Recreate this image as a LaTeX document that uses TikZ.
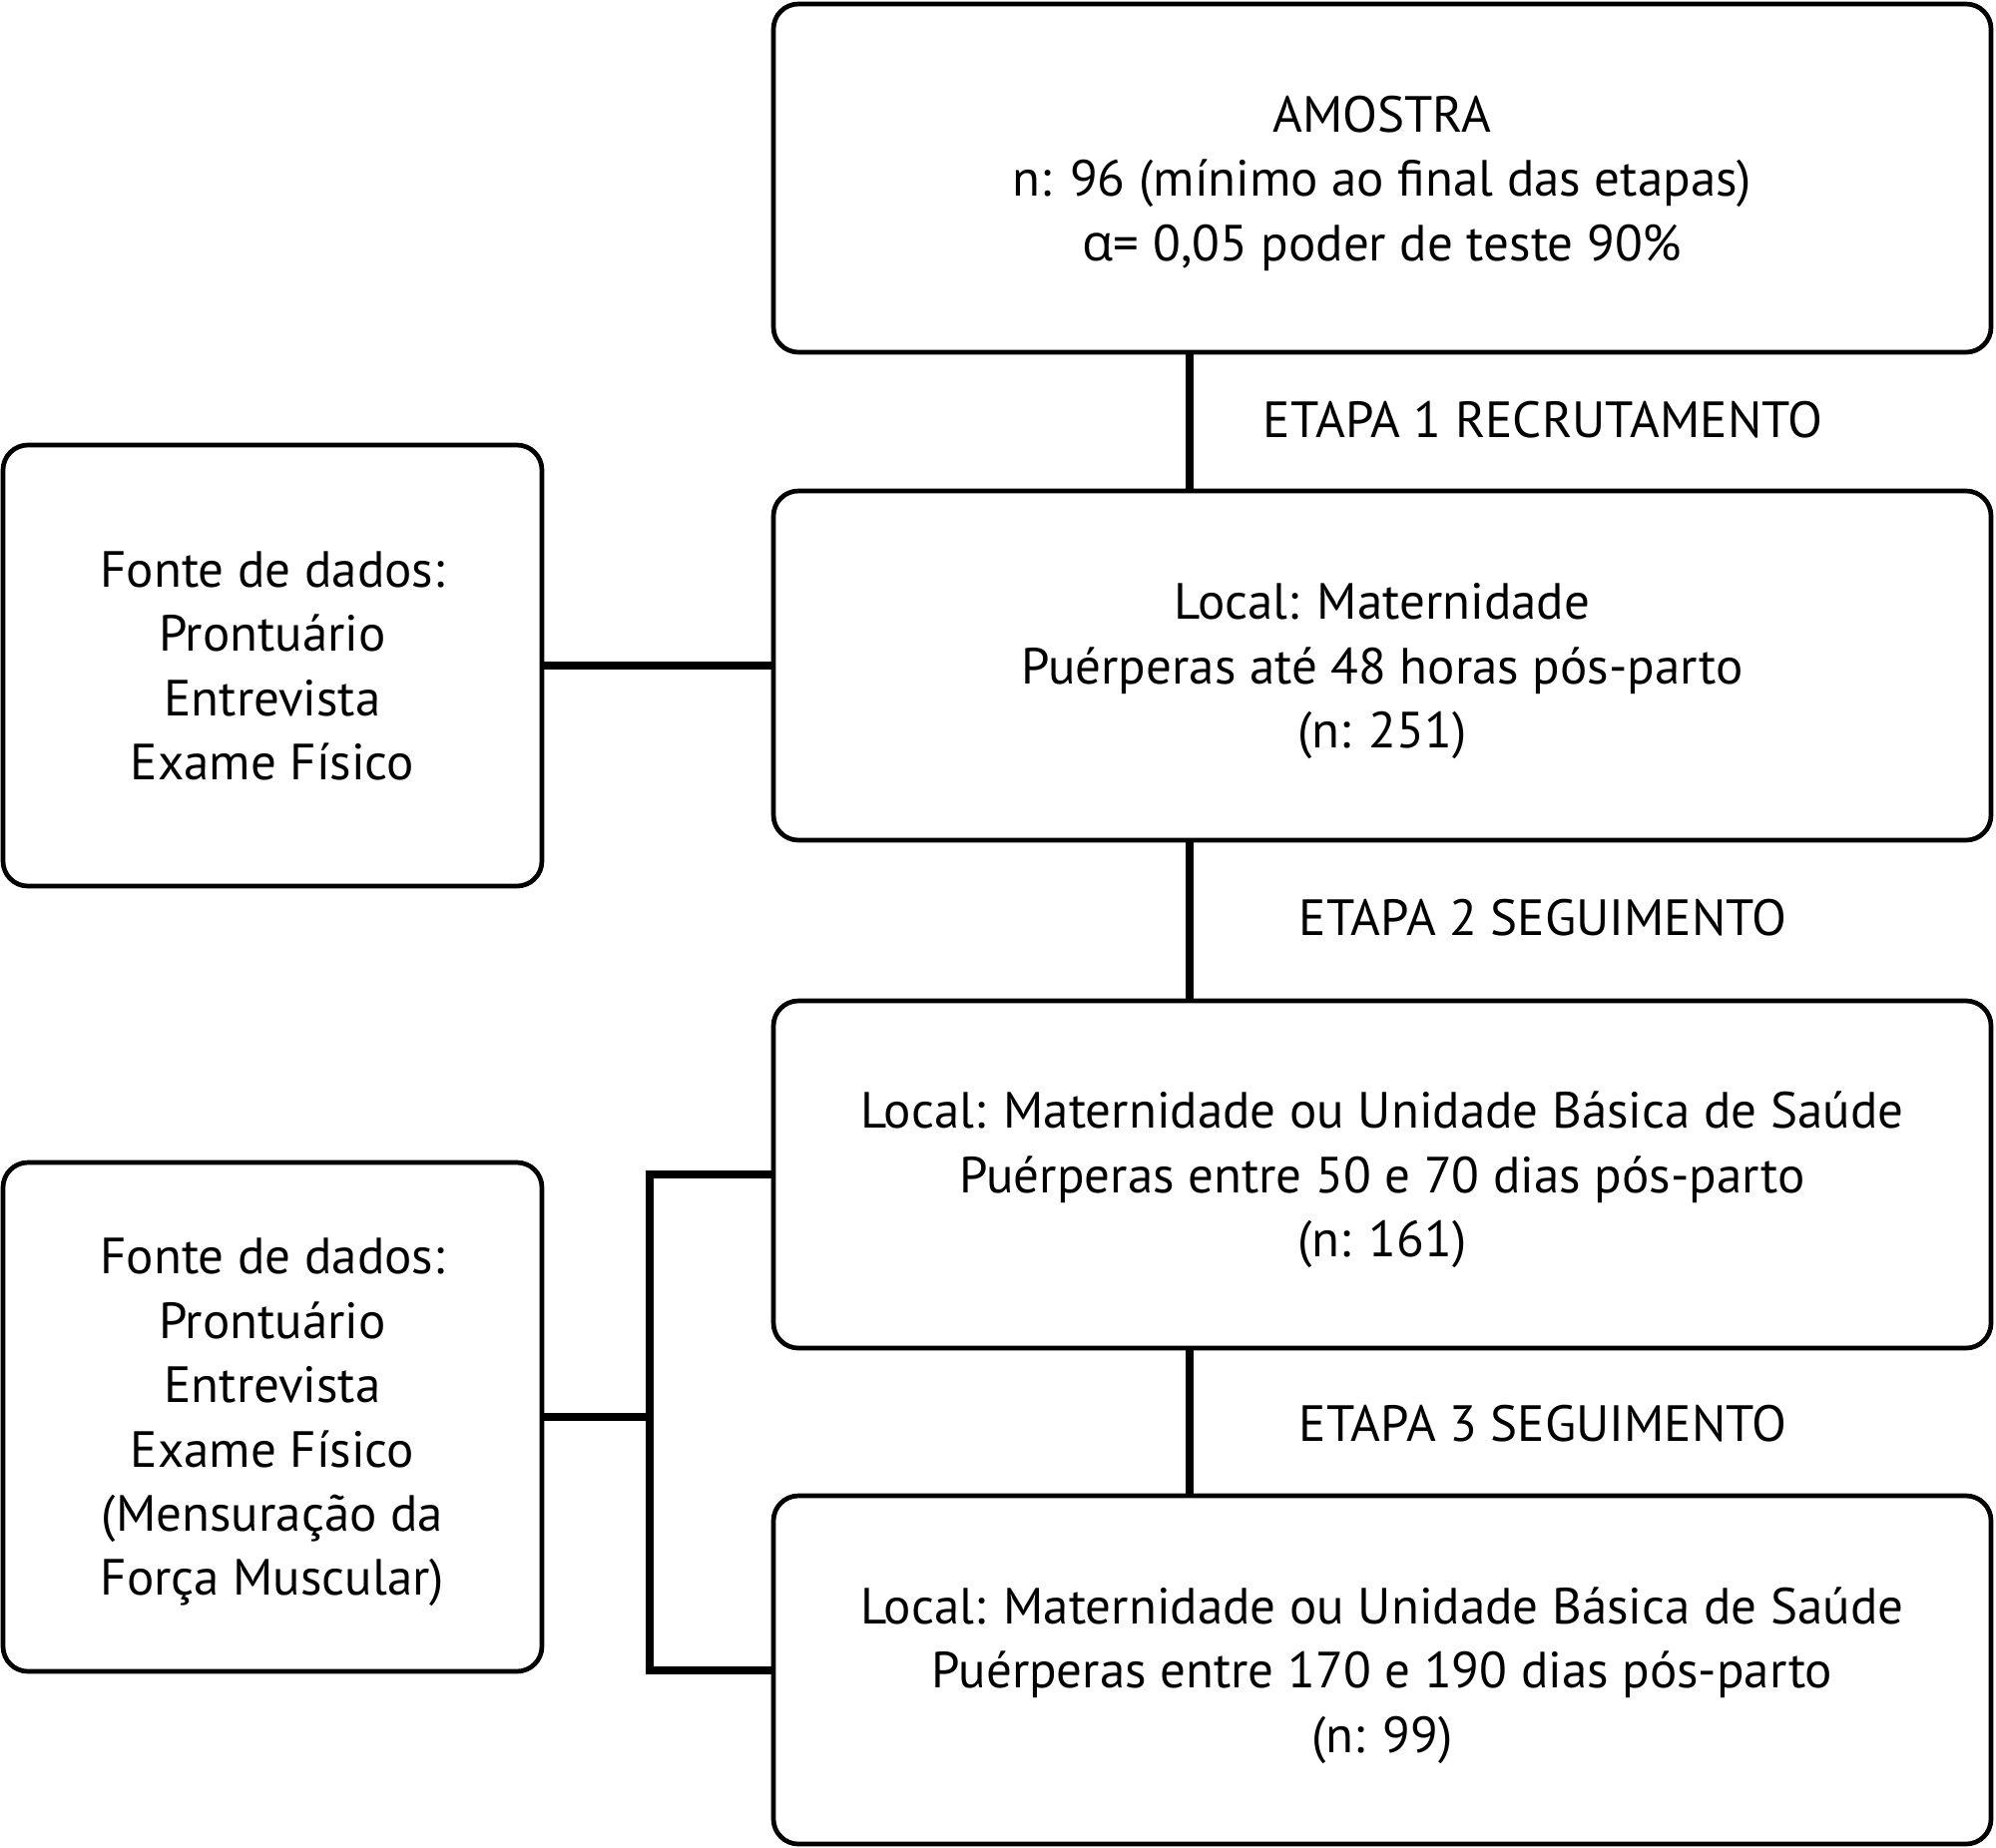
\documentclass[tikz,border=0pt]{standalone}
\usepackage{fontspec}
\setmainfont{PT Sans}
\newfontfamily\grk{Open Sans}
\begin{document}
\begin{tikzpicture}[x=0.5pt,y=-0.5pt,
  box/.style={draw=black, line width=2.35pt, rounded corners=12.5pt, align=center,
    inner sep=0pt, font=\fontsize{25.5pt}{32.2pt}\selectfont, text depth=-2pt},
  conn/.style={draw=black, line width=4pt, line join=miter},
  lab/.style={font=\fontsize{25.5pt}{32.2pt}\selectfont, inner sep=0pt}]
\useasboundingbox (0,0) rectangle (2000,1851);
\node[box, minimum width=610pt, minimum height=174.5pt] (top) at (1385,178.5)
  {AMOSTRA\\n: 96 (mínimo ao final das etapas)\\{\grk α}= 0,05 poder de teste 90\%};
\node[box, minimum width=610pt, minimum height=175pt] (b2) at (1385,667)
  {Local: Maternidade\\Puérperas até 48 horas pós-parto\\(n: 251)};
\node[box, minimum width=610pt, minimum height=174pt] (b3) at (1385,1177)
  {Local: Maternidade ou Unidade Básica de Saúde\\Puérperas entre 50 e 70 dias pós-parto\\(n: 161)};
\node[box, minimum width=610pt, minimum height=174.5pt] (b4) at (1385,1673.5)
  {Local: Maternidade ou Unidade Básica de Saúde\\Puérperas entre 170 e 190 dias pós-parto\\(n: 99)};
\node[box, minimum width=270pt, minimum height=221pt] (l1) at (273,667)
  {Fonte de dados:\\Prontuário\\Entrevista\\Exame Físico};
\node[box, minimum width=270pt, minimum height=255pt] (l2) at (273,1420)
  {Fonte de dados:\\Prontuário\\Entrevista\\Exame Físico\\(Mensuração da\\Força Muscular)};
\node[lab] (e1) at (1546,421) {ETAPA 1 RECRUTAMENTO};
\node[lab] (e2) at (1546,920) {ETAPA 2 SEGUIMENTO};
\node[lab] (e3) at (1546,1427) {ETAPA 3 SEGUIMENTO};
\coordinate (v) at (1192,0);
\coordinate (bx) at (651,0);
\draw[conn] (top.south -| v) -- (b2.north -| v);
\draw[conn] (b2.south -| v) -- (b3.north -| v);
\draw[conn] (b3.south -| v) -- (b4.north -| v);
\draw[conn] (l1.east) -- (b2.west);
\draw[conn] (b3.west) -- (b3.west -| bx) -- (b4.west -| bx) -- (b4.west);
\draw[conn] (l2.east) -- (l2.east -| bx);
\end{tikzpicture}
\end{document}
